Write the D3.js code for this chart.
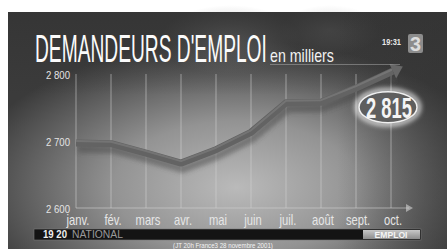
<!DOCTYPE html>
<html><head><meta charset="utf-8">
<script src="https://cdn.jsdelivr.net/npm/d3@7/dist/d3.min.js"></script>
<style>html,body{margin:0;padding:0;background:#fff;overflow:hidden}svg{display:block}</style>
</head><body>
<svg id="c" width="447" height="249"></svg>
<script>
const months = ["janv.","fév.","mars","avr.","mai","juin","juil.","août","sept.","oct."];
const values = [2697,2696,2682,2667,2687,2713,2757,2758,2779,2803];
const yTicks = [2600,2700,2800];
const yTickLabels = ["2 600","2 700","2 800"];
const lastLabel = "2 815";
const title = "DEMANDEURS D'EMPLOI";
const subtitle = "en milliers";

const svg = d3.select("#c");
const defs = svg.append("defs");
const FONT = "'Liberation Sans',Arial,sans-serif";

// place a text at (x,y) and squeeze it horizontally to width w (condensed TV look)
function ctext(parent, str, x, y, w, size, opts={}) {
  const t = parent.append("text").attr("x",0).attr("y",0)
    .attr("font-family",FONT).attr("font-size",size)
    .attr("text-anchor",opts.anchor||"start")
    .attr("font-weight",opts.weight||"normal")
    .attr("fill",opts.fill||"#fff").text(str);
  const L = t.node().getComputedTextLength();
  const s = w ? w / L : (opts.sx||1);
  t.attr("transform",`translate(${x},${y}) scale(${s},1)`);
  return t;
}

const rg = defs.append("radialGradient").attr("id","bg").attr("cx","0.52").attr("cy","0.74").attr("r","0.62")
  .attr("fx","0.52").attr("fy","0.74");
rg.append("stop").attr("offset","0").attr("stop-color","#bababa");
rg.append("stop").attr("offset","0.45").attr("stop-color","#939393");
rg.append("stop").attr("offset","1").attr("stop-color","#3b3b3b");
const cloud = defs.append("radialGradient").attr("id","cloud");
cloud.append("stop").attr("offset","0").attr("stop-color","#8a8a8a").attr("stop-opacity","0.55");
cloud.append("stop").attr("offset","1").attr("stop-color","#8a8a8a").attr("stop-opacity","0");
const topShade = defs.append("linearGradient").attr("id","ts").attr("x1",0).attr("y1",0).attr("x2",0).attr("y2",1);
topShade.append("stop").attr("offset","0").attr("stop-color","#333").attr("stop-opacity","0.7");
topShade.append("stop").attr("offset","0.35").attr("stop-color","#333").attr("stop-opacity","0");
const rightShade = defs.append("linearGradient").attr("id","rs").attr("x1",0).attr("y1",0).attr("x2",1).attr("y2",0);
rightShade.append("stop").attr("offset","0.75").attr("stop-color","#333").attr("stop-opacity","0");
rightShade.append("stop").attr("offset","1").attr("stop-color","#333").attr("stop-opacity","0.5");
const blur = defs.append("filter").attr("id","blur").attr("x","-20%").attr("y","-20%").attr("width","140%").attr("height","140%");
blur.append("feGaussianBlur").attr("stdDeviation",2);
const glow = defs.append("filter").attr("id","glow").attr("x","-40%").attr("y","-60%").attr("width","180%").attr("height","220%");
glow.append("feGaussianBlur").attr("stdDeviation",2.5);
const eb = defs.append("linearGradient").attr("id","eb").attr("x1",0).attr("y1",0).attr("x2",0).attr("y2",1);
eb.append("stop").attr("offset","0").attr("stop-color","#c8c8c8");
eb.append("stop").attr("offset","1").attr("stop-color","#8c8c8c");

// frame background
svg.append("rect").attr("x",8).attr("y",12).attr("width",439).attr("height",237).attr("fill","url(#bg)");
svg.append("ellipse").attr("cx",230).attr("cy",40).attr("rx",70).attr("ry",35).attr("fill","url(#cloud)");
svg.append("ellipse").attr("cx",330).attr("cy",30).attr("rx",50).attr("ry",25).attr("fill","url(#cloud)").attr("opacity",0.6);
svg.append("rect").attr("x",8).attr("y",12).attr("width",439).attr("height",237).attr("fill","url(#ts)");
svg.append("rect").attr("x",8).attr("y",12).attr("width",439).attr("height",237).attr("fill","url(#rs)");

const x = d3.scalePoint().domain(months).range([76,391]);
const y = d3.scaleLinear().domain([2600,2800]).range([208,74]);

// gridlines
svg.append("g").selectAll("line").data(months).join("line")
  .attr("x1",d=>x(d)).attr("x2",d=>x(d)).attr("y1",y(2800)).attr("y2",y(2600))
  .attr("stroke","#d4d4d4").attr("stroke-opacity",0.55).attr("stroke-width",1);
// baseline with arrow
const bx2 = x(months[months.length-1]) + 18;
svg.append("line").attr("x1",x(months[0])).attr("x2",bx2).attr("y1",y(2600)).attr("y2",y(2600))
  .attr("stroke","#d4d4d4").attr("stroke-opacity",0.6).attr("stroke-width",1.2);
svg.append("path").attr("d",`M${bx2+4},${y(2600)} l-7,-4 l0,8 z`).attr("fill","#d4d4d4").attr("fill-opacity",0.6);

// y tick labels
const gy = svg.append("g");
yTicks.forEach((d,i)=>ctext(gy, yTickLabels[i], 70, y(d)+4.5, 24, 11, {anchor:"end", fill:"#e4e4e4"}));

// month labels
const gm = svg.append("g");
months.forEach(m=>ctext(gm, m, x(m)+2, 224.5, null, 14, {anchor:"middle", fill:"#e6e6e6", sx:0.8}));

// line
const pts = months.map((m,i)=>[x(m), y(values[i])]);
const n = pts.length;
const dx = pts[n-1][0]-pts[n-2][0], dy = pts[n-1][1]-pts[n-2][1];
const len = Math.hypot(dx,dy), ux = dx/len, uy = dy/len;
const tip = [pts[n-1][0]+ux*13, pts[n-1][1]+uy*13];
const base = [tip[0]-ux*11, tip[1]-uy*11];
const linePts = pts.concat([[base[0],base[1]]]);
const lineGen = d3.line().curve(d3.curveLinear);
svg.append("path").attr("d",lineGen(linePts)).attr("fill","none")
  .attr("stroke","#4a4a4a").attr("stroke-width",8).attr("stroke-opacity",0.5)
  .attr("transform","translate(2,6)").attr("filter","url(#blur)").attr("stroke-linejoin","round");
svg.append("path").attr("d",lineGen(linePts)).attr("fill","none")
  .attr("stroke","#636363").attr("stroke-width",7).attr("stroke-linejoin","round");
svg.append("path").attr("d",lineGen(linePts)).attr("fill","none")
  .attr("stroke","#7c7c7c").attr("stroke-width",2).attr("stroke-linejoin","round")
  .attr("transform","translate(0,-2)").attr("stroke-opacity",0.7);
const px = -uy, py = ux;
svg.append("path")
  .attr("d",`M${tip[0]},${tip[1]} L${base[0]+px*8},${base[1]+py*8} L${base[0]-px*8},${base[1]-py*8} Z`)
  .attr("fill","#676767");

// value bubble (below the arrow, right of the août plateau)
const bc = [x(months[n-1]) - 3, y(values[n-3]) + 5];
svg.append("ellipse").attr("cx",bc[0]).attr("cy",bc[1]).attr("rx",31).attr("ry",17)
  .attr("fill","none").attr("stroke","#ffffff").attr("stroke-width",4).attr("filter","url(#glow)").attr("opacity",0.85);
svg.append("ellipse").attr("cx",bc[0]).attr("cy",bc[1]).attr("rx",29).attr("ry",15.5)
  .attr("fill","#5e5e5e").attr("stroke","#f0f0f0").attr("stroke-width",1.5);
ctext(svg, lastLabel, bc[0]+1, bc[1]+10.5, 46, 29, {anchor:"middle", weight:"bold", fill:"#f4f4f4"});

// title
ctext(svg, title, 35, 61.5, 232, 38.5, {fill:"#fbfbfb"});
ctext(svg, subtitle, 270, 62, 64, 19, {fill:"#f2f2f2"});
svg.append("line").attr("x1",270).attr("x2",400).attr("y1",64.5).attr("y2",64.5)
  .attr("stroke","#bbb").attr("stroke-opacity",0.45);

// clock & logo
ctext(svg, "19:31", 382, 44.5, 19, 9, {weight:"bold", fill:"#e8e8e8"});
svg.append("rect").attr("x",408).attr("y",34).attr("width",15).attr("height",19).attr("rx",2).attr("fill","#8c8c8c");
ctext(svg, "3", 415.5, 51, 11, 20, {anchor:"middle", weight:"bold", fill:"#dcdcdc"});

// bottom bar
svg.append("rect").attr("x",34).attr("y",229).attr("width",387).attr("height",11).attr("fill","#141414")
  .attr("stroke","#777").attr("stroke-width",0.6);
ctext(svg, "19 20", 43, 238.2, 24, 10, {weight:"bold", fill:"#f0f0f0"});
ctext(svg, "NATIONAL", 72, 238.2, 51, 10, {fill:"#9a9a9a"});
svg.append("rect").attr("x",363).attr("y",230).attr("width",57).attr("height",9).attr("fill","url(#eb)");
ctext(svg, "EMPLOI", 391, 237.5, 33, 8.5, {anchor:"middle", weight:"bold", fill:"#f4f4f4"});
ctext(svg, "(JT 20h France3 28 novembre 2001)", 223, 247.5, 100, 6.5, {anchor:"middle", fill:"#f4f4f4"});
</script>
</body></html>
